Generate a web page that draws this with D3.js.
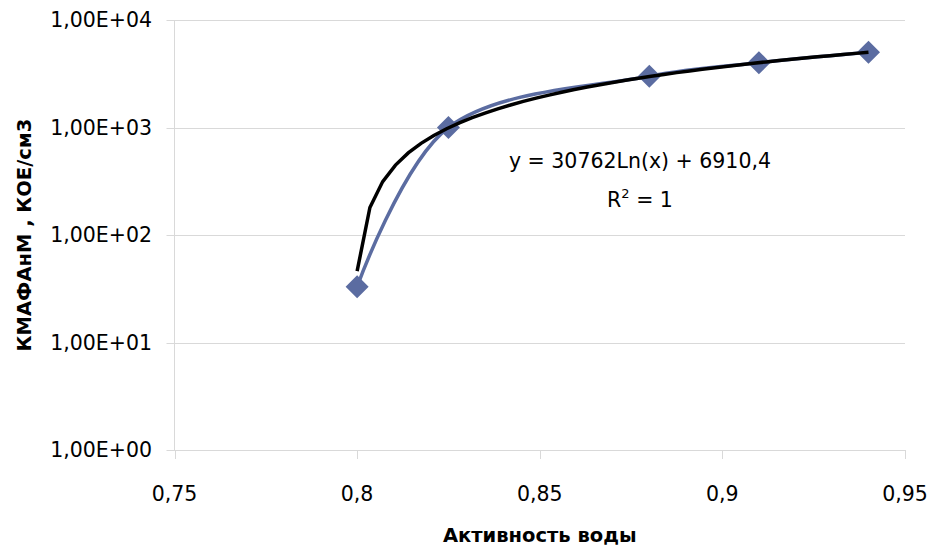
<!DOCTYPE html>
<html>
<head>
<meta charset="utf-8">
<script src="https://cdn.jsdelivr.net/npm/d3@7"></script>
<style>
  body { margin: 0; background: #fff; }
  text { font-family: "DejaVu Sans", sans-serif; fill: #000; }
</style>
</head>
<body>
<div id="chart"></div>
<script>
// Données
const activite = [0.8, 0.825, 0.88, 0.91, 0.94];
const kmafanm = [33, 1000, 3000, 4000, 5000];

const xTicks = [0.75, 0.8, 0.85, 0.9, 0.95];
const xTickLabels = ["0,75", "0,8", "0,85", "0,9", "0,95"];
const yTicks = [1, 10, 100, 1000, 10000];
const yTickLabels = ["1,00E+00", "1,00E+01", "1,00E+02", "1,00E+03", "1,00E+04"];

// tendance logarithmique affichée : y = 30762Ln(x) + 6910,4
const trendA = 30762;
const trendB = 6910.4;
const trendLabel = "y = 30762Ln(x) + 6910,4";

const width = 930, height = 550;
const plot = { left: 174.5, right: 905, top: 20, bottom: 450 };

const x = d3.scaleLinear().domain([0.75, 0.95]).range([plot.left, plot.right]);
const y = d3.scaleLog().domain([1, 10000]).range([plot.bottom, plot.top]);

const svg = d3.select("#chart")
    .append("svg")
    .attr("width", width)
    .attr("height", height);

// lignes de grille horizontales
svg.append("g")
    .selectAll("line")
    .data(yTicks)
    .enter()
    .append("line")
    .attr("x1", plot.left - 8)
    .attr("x2", plot.right)
    .attr("y1", d => Math.round(y(d)) + 0.5)
    .attr("y2", d => Math.round(y(d)) + 0.5)
    .style("stroke", "#d9d9d9")
    .style("stroke-width", 1);

// axe vertical
svg.append("line")
    .attr("x1", plot.left).attr("x2", plot.left)
    .attr("y1", plot.top).attr("y2", plot.bottom)
    .style("stroke", "#d9d9d9");

// graduations axe x
svg.append("g")
    .selectAll("line")
    .data(xTicks)
    .enter()
    .append("line")
    .attr("x1", d => Math.round(x(d)) + 0.5)
    .attr("x2", d => Math.round(x(d)) + 0.5)
    .attr("y1", plot.bottom)
    .attr("y2", plot.bottom + 9)
    .style("stroke", "#d9d9d9");

// libellés axe y
svg.append("g")
    .selectAll("text")
    .data(yTicks)
    .enter()
    .append("text")
    .attr("x", 152)
    .attr("y", d => y(d))
    .attr("dy", "0.36em")
    .attr("text-anchor", "end")
    .style("font-size", "20.5px")
    .text((d, i) => yTickLabels[i]);

// libellés axe x
svg.append("g")
    .selectAll("text")
    .data(xTicks)
    .enter()
    .append("text")
    .attr("x", d => x(d))
    .attr("y", 501)
    .attr("text-anchor", "middle")
    .style("font-size", "20.5px")
    .text((d, i) => xTickLabels[i]);

// titres des axes
svg.append("text")
    .attr("x", (plot.left + plot.right) / 2)
    .attr("y", 542)
    .attr("text-anchor", "middle")
    .style("font-size", "19.5px")
    .style("font-weight", "bold")
    .text("Активность воды");

svg.append("text")
    .attr("transform", "translate(31," + (plot.top + plot.bottom) / 2 + ") rotate(-90)")
    .attr("text-anchor", "middle")
    .style("font-size", "19.5px")
    .style("font-weight", "bold")
    .text("КМАФАнМ , КОЕ/см3");

// série de données (ligne lissée)
const points = activite.map((a, i) => [a, kmafanm[i]]);

const line = d3.line()
    .x(d => x(d[0]))
    .y(d => y(d[1]))
    .curve(d3.curveCatmullRom);

svg.append("path")
    .datum(points)
    .attr("d", line)
    .style("fill", "none")
    .style("stroke", "#5b6ca1")
    .style("stroke-width", 3.5);

// marqueurs losanges
svg.append("g")
    .selectAll("path")
    .data(points)
    .enter()
    .append("path")
    .attr("d", d3.symbol(d3.symbolSquare, 265))
    .attr("transform", d => "translate(" + x(d[0]) + "," + y(d[1]) + ") rotate(45)")
    .style("fill", "#5b6ca1");

// courbe de tendance
const trendX = d3.range(0, 41).map(i => 0.8 + i * (0.94 - 0.8) / 40);
const trendPts = trendX.map(v => [v, trendA * Math.log(v) + trendB]);

svg.append("path")
    .datum(trendPts)
    .attr("d", d3.line().x(d => x(d[0])).y(d => y(d[1])))
    .style("fill", "none")
    .style("stroke", "#000")
    .style("stroke-width", 3.5);

// équation de la tendance
svg.append("text")
    .attr("x", 640)
    .attr("y", 168)
    .attr("text-anchor", "middle")
    .style("font-size", "20.5px")
    .text(trendLabel);

const r2 = svg.append("text")
    .attr("x", 640)
    .attr("y", 207)
    .attr("text-anchor", "middle")
    .style("font-size", "20.5px");
r2.append("tspan").text("R");
r2.append("tspan").attr("dy", -9).style("font-size", "13px").text("2");
r2.append("tspan").attr("dy", 9).text(" = 1");
</script>
</body>
</html>
